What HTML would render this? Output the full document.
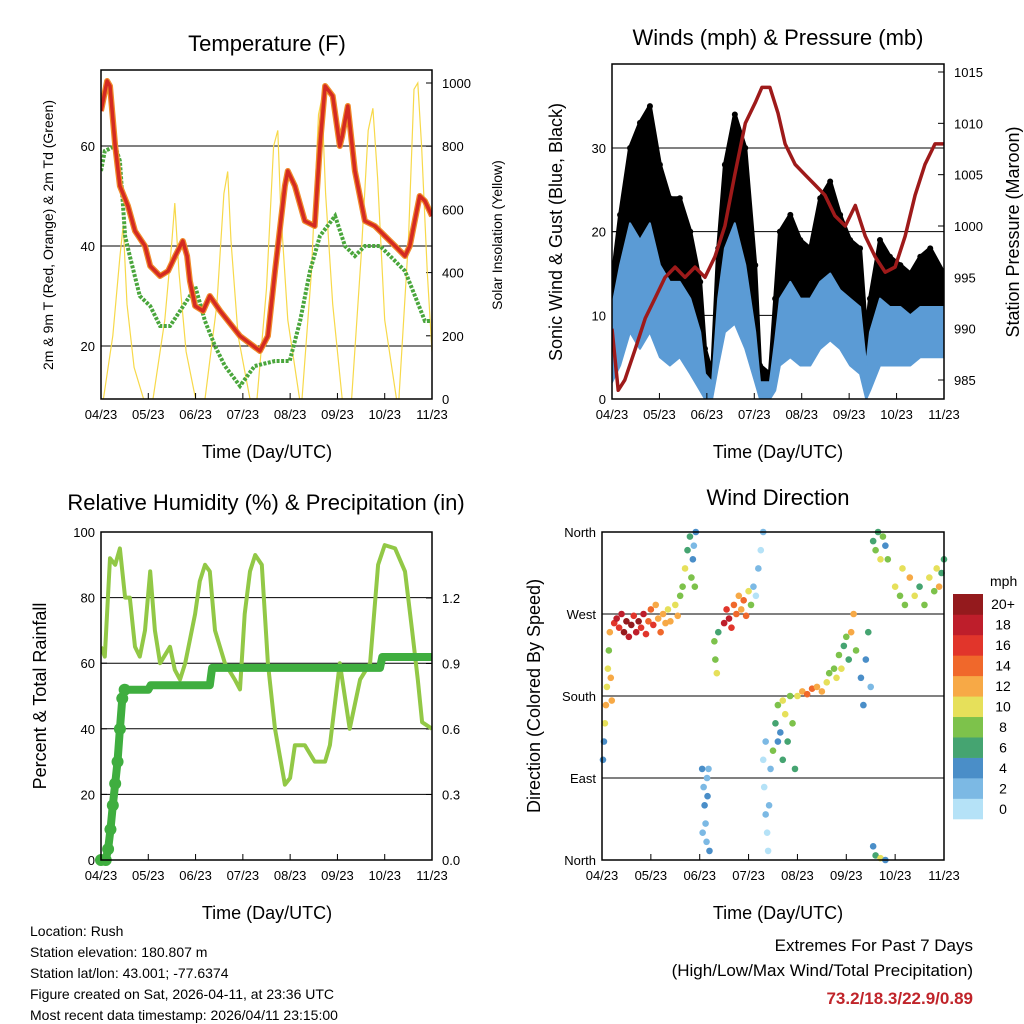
<!DOCTYPE html>
<html><head><meta charset="utf-8"><style>
html,body{margin:0;padding:0;background:#fff}
svg{display:block;font-family:"Liberation Sans",sans-serif}
</style></head><body>
<svg id="c" width="1024" height="1024" viewBox="0 0 1024 1024">
<defs>
<clipPath id="cp1"><rect x="101" y="70" width="331" height="329"/></clipPath>
<clipPath id="cp2"><rect x="612" y="64" width="332" height="335"/></clipPath>
<clipPath id="cp3"><rect x="101" y="532" width="331" height="328"/></clipPath>
<clipPath id="cp4"><rect x="598" y="528" width="350" height="336"/></clipPath>
</defs>
<g id="static">
<text x="267" y="51" font-size="22" text-anchor="middle">Temperature (F)</text>
<text x="778" y="45" font-size="22" text-anchor="middle">Winds (mph) &amp; Pressure (mb)</text>
<text x="266" y="510" font-size="22" text-anchor="middle">Relative Humidity (%) &amp; Precipitation (in)</text>
<text x="778" y="505" font-size="22" text-anchor="middle">Wind Direction</text>
<text transform="translate(53,235) rotate(-90)" font-size="14" text-anchor="middle">2m &amp; 9m T (Red, Orange) &amp; 2m Td (Green)</text>
<text transform="translate(502,235) rotate(-90)" font-size="14" text-anchor="middle">Solar Insolation (Yellow)</text>
<text transform="translate(562,232) rotate(-90)" font-size="18" text-anchor="middle">Sonic Wind &amp; Gust (Blue, Black)</text>
<text transform="translate(1019,232) rotate(-90)" font-size="18" text-anchor="middle">Station Pressure (Maroon)</text>
<text transform="translate(46,696) rotate(-90)" font-size="18" text-anchor="middle">Percent &amp; Total Rainfall</text>
<text transform="translate(540,696) rotate(-90)" font-size="18" text-anchor="middle">Direction (Colored By Speed)</text>
<text x="267" y="458" font-size="18" text-anchor="middle">Time (Day/UTC)</text>
<text x="778" y="458" font-size="18" text-anchor="middle">Time (Day/UTC)</text>
<text x="267" y="919" font-size="18" text-anchor="middle">Time (Day/UTC)</text>
<text x="778" y="919" font-size="18" text-anchor="middle">Time (Day/UTC)</text>
<g font-size="14">
<text x="30" y="936">Location: Rush</text>
<text x="30" y="957">Station elevation: 180.807 m</text>
<text x="30" y="978">Station lat/lon: 43.001; -77.6374</text>
<text x="30" y="999">Figure created on Sat, 2026-04-11, at 23:36 UTC</text>
<text x="30" y="1020">Most recent data timestamp: 2026/04/11 23:15:00</text>
</g>
<g font-size="17" text-anchor="end">
<text x="973" y="951">Extremes For Past 7 Days</text>
<text x="973" y="976">(High/Low/Max Wind/Total Precipitation)</text>
<text x="973" y="1004" fill="#c0242a" font-weight="bold">73.2/18.3/22.9/0.89</text>
</g>
<text x="990" y="586" font-size="14">mph</text>
</g>
</svg>
<script>
// ---- data ----
var xTickLabels = ["04/23","05/23","06/23","07/23","08/23","09/23","10/23","11/23"];
var tempT = [0,0.13,0.19,0.30,0.40,0.57,0.72,0.93,1.04,1.25,1.42,1.57,1.73,1.82,1.88,1.99,2.16,2.30,2.52,2.94,3.36,3.53,3.68,3.89,3.95,4.10,4.31,4.52,4.63,4.74,4.90,5.05,5.10,5.22,5.37,5.58,5.79,6.22,6.43,6.53,6.74,6.85,7.0];
var tempV = [67,73,72,60,52,48,43,40,36,34,35,38,41,38,33,28,27,30,27,22,19,22,35,52,55,52,45,44,60,72,70,60,62,68,55,45,44,40,38,40,50,49,46];
var dewT = [0,0.08,0.30,0.40,0.51,0.61,0.82,1.04,1.25,1.46,1.67,1.88,1.99,2.20,2.41,2.62,2.94,3.25,3.68,3.99,4.21,4.42,4.63,4.95,5.16,5.37,5.58,5.90,6.22,6.43,6.64,6.85,7.0];
var dewV = [55,59,60,57,42,38,30,28,24,24,27,30,32,25,20,16,12,16,17,17,25,35,42,46,40,38,40,40,37,35,30,25,25];
var solarT = [0,0.05,0.25,0.4,0.47,0.55,0.7,0.9,1.1,1.35,1.5,1.56,1.65,1.8,2.0,2.2,2.45,2.6,2.68,2.75,2.9,3.15,3.3,3.5,3.65,3.74,3.8,3.95,4.2,4.25,4.45,4.6,4.67,4.75,4.9,5.1,5.3,5.5,5.65,5.75,5.85,6.0,6.25,6.3,6.5,6.62,6.7,6.78,6.9,7.0];
var solarV = [0,0,200,450,550,300,100,0,0,250,500,620,400,150,0,0,300,650,720,500,200,0,0,350,800,850,600,250,0,0,400,900,950,650,300,0,0,450,850,920,700,250,0,0,500,980,1000,800,400,150];
var tempTicks = [20,40,60];
var solarTicks = [0,200,400,600,800,1000];

var windT = [0,0.17,0.38,0.59,0.80,1.01,1.22,1.43,1.65,1.86,1.96,2.11,2.24,2.38,2.59,2.81,3.02,3.12,3.33,3.44,3.54,3.76,3.97,4.18,4.39,4.60,4.81,5.02,5.23,5.36,5.44,5.65,5.86,6.08,6.29,6.50,6.71,7.0];
var gustHi = [14,22,30,33,35,28,24,24,20,14,6,3,18,28,34,30,16,4,3,12,20,22,19,18,24,26,22,19,18,8,12,19,17,16,15,17,18,15];
var gustLo = [8,13,17,16,17,13,11,11,10,6,2,1,10,16,18,14,6,1,1,5,10,11,10,10,12,14,11,10,9,3,6,10,9,9,8,9,9,9];
var windHi = [11,16,21,19,21,16,14,14,12,8,3,2,12,18,21,16,8,2,2,7,12,14,12,12,14,15,13,12,11,4,8,12,11,11,10,11,11,11];
var windLo = [2,4,8,6,8,5,4,5,3,1,0,0,4,8,9,6,2,0,0,1,4,5,4,4,6,7,6,4,3,0,1,4,4,4,4,5,5,5];
var presT = [0,0.13,0.27,0.49,0.70,0.91,1.12,1.33,1.54,1.75,1.96,2.17,2.38,2.59,2.81,3.02,3.16,3.33,3.50,3.65,3.86,4.07,4.28,4.49,4.70,4.92,5.13,5.34,5.55,5.76,5.97,6.18,6.39,6.60,6.81,7.0];
var presV = [990,984,985,988,991,993,995,996,995,996,995,997,1000,1005,1010,1012,1013.5,1013.5,1011,1008,1006,1005,1004,1003,1001,1000,1002,999,997,995.5,996,999,1003,1006,1008,1008];
var windTicks = [0,10,20,30];
var presTicks = [985,990,995,1000,1005,1010,1015];

var rhT = [0,0.08,0.19,0.30,0.40,0.51,0.61,0.72,0.82,0.93,1.04,1.14,1.25,1.46,1.56,1.67,1.78,1.99,2.09,2.20,2.30,2.41,2.62,2.83,2.94,3.04,3.15,3.26,3.40,3.53,3.68,3.89,4.00,4.10,4.31,4.52,4.74,4.84,5.05,5.26,5.48,5.69,5.86,6.00,6.22,6.43,6.58,6.70,6.79,7.0];
var rhV = [65,62,92,90,95,80,80,65,62,70,88,70,60,65,58,55,60,75,85,90,88,70,60,55,52,75,88,93,90,60,40,23,25,35,35,30,30,35,60,40,55,60,90,96,95,88,70,55,42,40];
var precipT = [0,0.1,0.15,0.2,0.25,0.3,0.35,0.4,0.45,0.5,1.0,1.05,2.3,2.35,5.9,5.95,7.0];
var precipV = [0,0,0.05,0.14,0.25,0.35,0.45,0.6,0.74,0.78,0.78,0.80,0.80,0.88,0.88,0.93,0.93];
var rhTicks = [0,20,40,60,80,100];
var precipTicks = ["0.0","0.3","0.6","0.9","1.2"];

var dirT = [0.02,0.04,0.06,0.08,0.1,0.12,0.14,0.16,0.18,0.2,0.25,0.3,0.35,0.4,0.45,0.5,0.55,0.6,0.65,0.7,0.75,0.8,0.85,0.9,0.95,1.0,1.05,1.1,1.15,1.2,1.25,1.3,1.35,1.4,1.5,1.55,1.6,1.65,1.7,1.75,1.8,1.83,1.86,1.9,1.92,1.88,2.05,2.08,2.1,2.12,2.14,2.16,2.18,2.2,2.15,2.06,2.3,2.32,2.35,2.38,2.5,2.55,2.6,2.65,2.7,2.75,2.8,2.85,2.9,2.95,3.0,3.05,3.1,3.15,3.2,3.25,3.3,3.3,3.32,3.35,3.38,3.4,3.42,3.45,3.35,3.5,3.55,3.6,3.65,3.7,3.75,3.8,3.85,3.9,3.95,3.6,3.7,4.0,4.1,4.2,4.3,4.4,4.5,4.6,4.65,4.75,4.8,4.85,4.9,4.95,5.0,5.05,5.1,5.15,5.2,5.3,5.35,5.4,5.45,5.5,5.55,5.6,5.65,5.7,5.75,5.8,5.85,5.55,5.6,5.7,5.8,6.0,6.1,6.15,6.2,6.3,6.4,6.5,6.6,6.7,6.8,6.85,6.9,6.95,7.0];
var dirV = [110,130,150,170,190,210,230,250,200,175,260,265,255,270,250,262,245,258,268,250,262,255,270,248,262,275,258,280,265,250,270,260,275,262,280,268,290,300,320,340,355,310,330,300,360,345,100,80,60,40,20,70,100,10,90,30,240,220,205,250,260,275,265,255,280,270,290,275,285,268,295,280,300,290,320,340,360,110,80,50,30,10,60,100,130,120,150,170,140,110,160,130,180,150,100,130,175,180,185,182,188,190,185,195,205,210,200,225,210,235,245,220,250,270,230,200,170,220,250,190,350,340,360,330,355,345,330,15,5,2,0,300,290,320,280,310,290,300,280,310,295,320,300,315,330];
var dirS = [4,4,10,12,11,10,9,12,13,12,17,18,16,19,20,21,18,20,17,19,20,16,18,17,15,14,16,13,12,14,12,13,11,12,10,13,9,8,10,7,6,9,5,8,4,3,4,3,4,3,2,5,3,4,2,3,9,8,10,7,18,17,19,16,15,14,13,12,14,15,10,9,2,1,2,1,2,1,1,2,1,1,2,3,2,8,6,9,5,7,10,6,8,9,6,4,11,10,12,14,15,13,12,11,9,9,10,8,11,7,9,6,12,13,8,4,5,4,6,3,7,9,6,10,8,5,9,4,6,10,5,10,9,11,8,12,10,7,9,11,8,10,12,6,7];
var dirTickLabels = ["North","East","South","West","North"];
var speedBins = ["0","2","4","6","8","10","12","14","16","18","20+"];
var speedColors = ["#b5e2f7","#7cb9e4","#4a8ec8","#45a471","#7dc24b","#e6e05a","#f7a946","#f0682b","#e1352b","#be1e2b","#941a1d"];

// ---- drawing ----
var svg = document.getElementById('c');
var NS = 'http://www.w3.org/2000/svg';
function mk(tag, attrs, parent){ var e=document.createElementNS(NS,tag); for(var k in attrs) e.setAttribute(k,attrs[k]); (parent||svg).appendChild(e); return e; }
function lin(d0,d1,r0,r1){ return function(v){ return r0+(v-d0)/(d1-d0)*(r1-r0); }; }
function pts(T,V,sx,sy){ return T.map(function(t,i){return sx(t).toFixed(1)+','+sy(V[i]).toFixed(1);}).join(' '); }

function frame(x0,y0,x1,y1,name){
  var r = mk('rect',{x:x0,y:y0,width:x1-x0,height:y1-y0,fill:'none',stroke:'#000','stroke-width':1.5});
  
  
  var sx = lin(0,7,x0,x1);
  for(var i=0;i<xTickLabels.length;i++){
    var x = sx(i);
    var tk = mk('line',{x1:x,x2:x,y1:y1,y2:y1-6,stroke:'#000','stroke-width':1});
    
    
    var tl = mk('text',{x:x,y:y1+20,'font-size':13,'text-anchor':'middle'});
    tl.textContent = xTickLabels[i];
    
    
  }
  return sx;
}
function hgrid(x0,x1,y){
  var g = mk('line',{x1:x0,x2:x1,y1:y,y2:y,stroke:'#000','stroke-width':1});
  
  
}
function ytick(x,y,label,anchor,tickDir){
  var t = mk('line',{x1:x,x2:x+tickDir*6,y1:y,y2:y,stroke:'#000','stroke-width':1});
  
  
  var tx = mk('text',{x: anchor==='end'? x-6 : x+10, y:y+5,'font-size':13,'text-anchor':anchor});
  tx.textContent = label;
  
  
}
function clipGroup(id,name){
  var g = mk('g',{'clip-path':'url(#'+id+')'});
  
  
  return g;
}

// Panel 1: temperature
(function(){
  var x0=101,x1=432,y0=70,y1=399;
  var sx = lin(0,7,x0,x1);
  var sy = lin(9.4,75.2,y1,y0);
  var ss = lin(0,1000,y1,83);
  tempTicks.forEach(function(v){ hgrid(x0,x1,sy(v)); ytick(x0,sy(v),String(v),'end',1); });
  solarTicks.forEach(function(v){ ytick(x1,ss(v),String(v),'start',-1); });
  var g = clipGroup('cp1','temperature-series');
  var so = mk('polyline',{points:pts(solarT,solarV,sx,ss),fill:'none',stroke:'#f7d94a','stroke-width':1.2},g);
  
  
  var dw = mk('polyline',{points:pts(dewT,dewV,sx,sy),fill:'none',stroke:'#4aa63c','stroke-width':4,'stroke-dasharray':'3 1.5'},g);
  
  
  var o = mk('polyline',{points:pts(tempT,tempV,sx,sy),fill:'none',stroke:'#f08a2a','stroke-width':6,'stroke-linejoin':'round'},g);
  
  
  var r = mk('polyline',{points:pts(tempT,tempV,sx,sy),fill:'none',stroke:'#d42a22','stroke-width':3.5,'stroke-linejoin':'round'},g);
  
  
  frame(x0,y0,x1,y1,'temperature-plot-area');
})();

// Panel 2: winds & pressure
(function(){
  var x0=612,x1=944,y0=64,y1=399;
  var sx = lin(0,7,x0,x1);
  var sy = lin(0,30,y1,148);
  var sp = lin(985,1015,380,72);
  windTicks.forEach(function(v){ if(v>0) hgrid(x0,x1,sy(v)); ytick(x0,sy(v),String(v),'end',1); });
  presTicks.forEach(function(v){ ytick(x1,sp(v),String(v),'start',-1); });
  var grp = clipGroup('cp2','winds-series');
  var gp = pts(windT,gustHi,sx,sy)+' '+pts(windT.slice().reverse(),gustLo.slice().reverse(),sx,sy);
  var g = mk('polygon',{points:gp,fill:'#000',stroke:'#000','stroke-width':4,'stroke-linejoin':'round'},grp);
  
  
  windT.forEach(function(t,i){
    var d = mk('circle',{cx:sx(t),cy:sy(gustHi[i]),r:3,fill:'#000'},grp);
    
    
  });
  var wp = pts(windT,windHi,sx,sy)+' '+pts(windT.slice().reverse(),windLo.slice().reverse(),sx,sy);
  var w = mk('polygon',{points:wp,fill:'#5b9bd5',stroke:'#5b9bd5','stroke-width':2,'stroke-linejoin':'round'},grp);
  
  
  var p = mk('polyline',{points:pts(presT,presV,sx,sp),fill:'none',stroke:'#9e1a1a','stroke-width':3.5,'stroke-linejoin':'round'},grp);
  
  
  frame(x0,y0,x1,y1,'winds-plot-area');
})();

// Panel 3: RH & precip
(function(){
  var x0=101,x1=432,y0=532,y1=860;
  var sx = lin(0,7,x0,x1);
  var sy = lin(0,100,y1,y0);
  var sr = lin(0,1.2,y1,598);
  rhTicks.forEach(function(v){ if(v>0&&v<100) hgrid(x0,x1,sy(v)); ytick(x0,sy(v),String(v),'end',1); });
  precipTicks.forEach(function(v){ ytick(x1,sr(parseFloat(v)),v,'start',-1); });
  var grp = clipGroup('cp3','rh-series');
  var rh = mk('polyline',{points:pts(rhT,rhV,sx,sy),fill:'none',stroke:'#92c846','stroke-width':4,'stroke-linejoin':'round'},grp);
  
  
  var pr = mk('polyline',{points:pts(precipT,precipV,sx,sr),fill:'none',stroke:'#3fae3f','stroke-width':8,'stroke-linejoin':'round'},grp);
  
  
  precipT.forEach(function(t,i){
    if(t>0.6) return;
    var c = mk('circle',{cx:sx(t),cy:sr(precipV[i]),r:6,fill:'#3fae3f'});
    
    
  });
  frame(x0,y0,x1,y1,'rh-plot-area');
})();

// Panel 4: wind direction
(function(){
  var x0=602,x1=944,y0=532,y1=860;
  var sx = lin(0,7,x0,x1);
  var sy = lin(0,360,y1,y0);
  dirTickLabels.forEach(function(l,i){ var y=sy(i*90); if(i>0&&i<4) hgrid(x0,x1,y); ytick(x0,y,l,'end',1); });
  dirT.forEach(function(t,i){
    var b = Math.min(10, Math.floor(dirS[i]/2));
    var c = mk('circle',{cx:sx(t),cy:sy(dirV[i]),r:3.3,fill:speedColors[b]});
    
    
  });
  frame(x0,y0,x1,y1,'direction-plot-area');
  var h = 225/11;
  for(var k=0;k<11;k++){
    var y = 819-(k+1)*h;
    var r = mk('rect',{x:953,y:y,width:30,height:h+0.3,fill:speedColors[k]});
    
    
    var tx = mk('text',{x:1003,y:y+h/2+5,'font-size':14,'text-anchor':'middle'});
    tx.textContent = speedBins[k];
    
    
  }
})();
</script>
</body></html>
